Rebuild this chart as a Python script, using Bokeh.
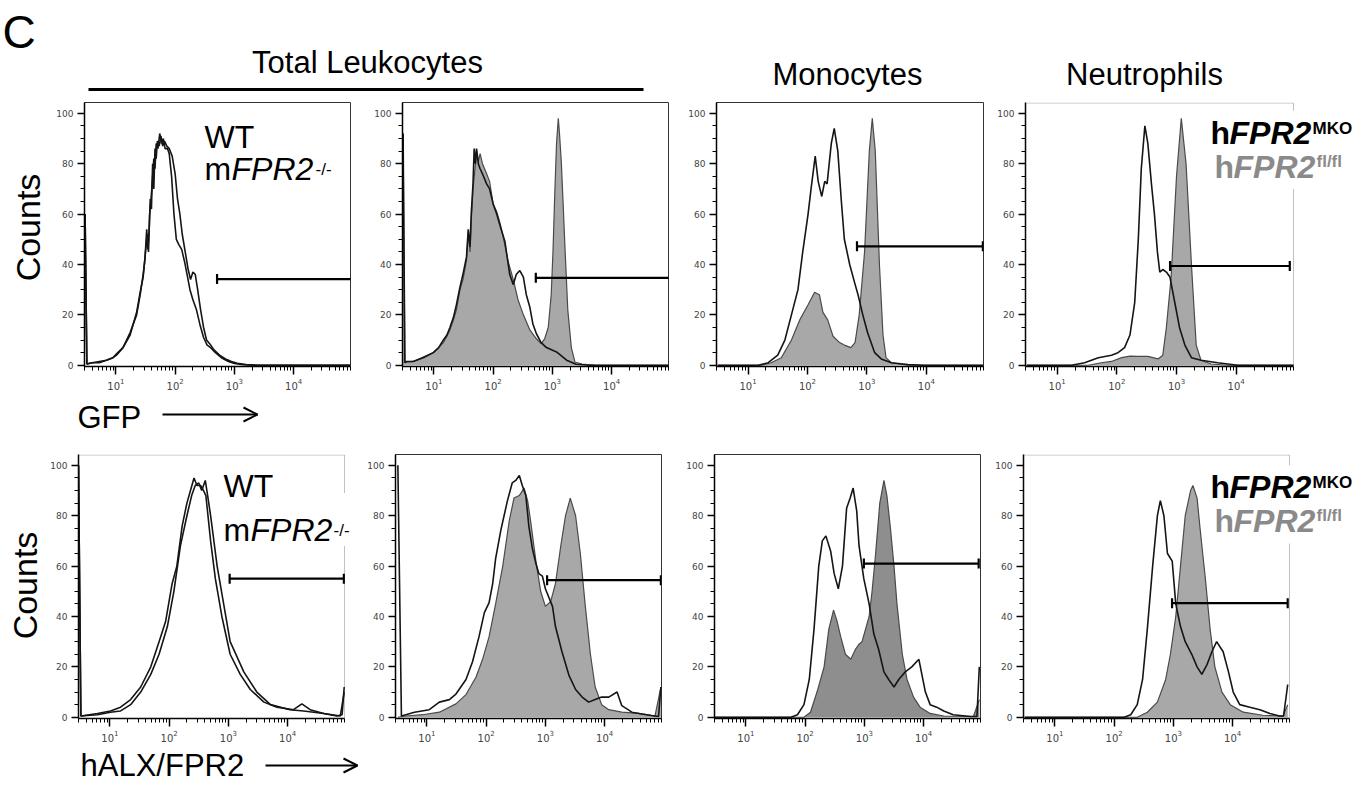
import math
from bokeh.plotting import figure
from bokeh.layouts import column, row
from bokeh.models import Range1d, FixedTicker, Label, Arrow, OpenHead, BoxAnnotation
from bokeh.embed import file_html
from bokeh.resources import INLINE

# ---------------- data (x = log10 fluorescence, y = counts) ----------------
# Row 1: GFP
gfp_leuk_wt = [(0.48, 60), (0.51, 0.5), (0.6, 1), (0.72, 1), (0.84, 2), (0.95, 3), (1.01, 4.5), (1.12, 7), (1.24, 13), (1.35, 20), (1.41, 28), (1.46, 36), (1.49, 42), (1.52, 54), (1.54, 46), (1.56, 53), (1.58, 66), (1.6, 62), (1.62, 80), (1.64, 70), (1.66, 86), (1.68, 82), (1.7, 89), (1.73, 87), (1.76, 91), (1.79, 87), (1.82, 89), (1.86, 87), (1.9, 86), (1.95, 83), (2.0, 76), (2.04, 66), (2.08, 60), (2.12, 52), (2.17, 45), (2.22, 38), (2.26, 34), (2.3, 37), (2.34, 36), (2.38, 30), (2.43, 22), (2.48, 15), (2.53, 10), (2.6, 8), (2.66, 6), (2.75, 4), (2.85, 2.5), (2.95, 1.5), (3.05, 0.8), (3.2, 0.3), (3.4, 0), (4.96, 0)]
gfp_leuk_ko = [(0.48, 60), (0.51, 0.5), (0.6, 1), (0.72, 1.5), (0.84, 2), (0.95, 3), (1.01, 4), (1.12, 7), (1.24, 12), (1.35, 21), (1.41, 29), (1.46, 35), (1.5, 45), (1.53, 52), (1.55, 45), (1.57, 60), (1.6, 68), (1.62, 75), (1.64, 82), (1.66, 78), (1.68, 88), (1.71, 86), (1.74, 92), (1.77, 88), (1.8, 90), (1.83, 86), (1.87, 86), (1.9, 84), (1.94, 75), (1.98, 60), (2.02, 50), (2.06, 48), (2.11, 46), (2.16, 41), (2.21, 35), (2.25, 30), (2.3, 26), (2.36, 22), (2.42, 16), (2.48, 11), (2.54, 8), (2.6, 7), (2.68, 5), (2.78, 3), (2.9, 1.5), (3.0, 0.7), (3.15, 0.2), (3.3, 0), (4.96, 0)]
gfp_leuk_fl = [(0.48, 92), (0.51, 1), (0.54, 1.3), (0.65, 1.5), (0.82, 3.3), (0.99, 5), (1.08, 7), (1.16, 9), (1.22, 11.5), (1.27, 14), (1.33, 18), (1.38, 22), (1.44, 30), (1.49, 34), (1.55, 41.5), (1.58, 53), (1.61, 45), (1.63, 57), (1.66, 70), (1.69, 77), (1.72, 85), (1.75, 81), (1.78, 84), (1.82, 80), (1.89, 76), (1.94, 73), (2.0, 64), (2.06, 61), (2.11, 57), (2.17, 51), (2.25, 41.5), (2.34, 34), (2.42, 26), (2.51, 20), (2.62, 14), (2.73, 10.5), (2.81, 8.6), (2.87, 10.5), (2.93, 15), (2.98, 28), (3.01, 45), (3.04, 68), (3.07, 88), (3.1, 98), (3.12, 92), (3.15, 81), (3.18, 65), (3.21, 48), (3.26, 22), (3.32, 7), (3.38, 1.3), (3.5, 0.5), (3.74, 0), (4.96, 0)]
gfp_leuk_mko = [(0.48, 92), (0.51, 1), (0.54, 1.5), (0.65, 1.5), (0.82, 3), (0.99, 5), (1.08, 7), (1.16, 10), (1.22, 12), (1.27, 15), (1.33, 19), (1.38, 24), (1.44, 31), (1.49, 36), (1.55, 43), (1.58, 54), (1.61, 47), (1.63, 60), (1.66, 72), (1.68, 86), (1.7, 80), (1.72, 86), (1.75, 80), (1.78, 78), (1.82, 76), (1.89, 72), (1.94, 70), (2.0, 64), (2.06, 60), (2.11, 56), (2.2, 49), (2.28, 36), (2.34, 32), (2.39, 36), (2.45, 37.6), (2.51, 35), (2.56, 28), (2.62, 23), (2.67, 16.5), (2.73, 12.5), (2.81, 9), (2.9, 7), (3.07, 5.3), (3.24, 2), (3.4, 0.4), (3.63, 0), (4.96, 0)]
gfp_mono_mko = [(0.49, 0), (1.17, 0), (1.34, 1), (1.5, 4), (1.62, 10), (1.73, 20), (1.84, 30), (1.92, 45), (2.01, 60), (2.06, 70), (2.13, 83), (2.18, 73), (2.24, 67), (2.29, 73), (2.33, 72), (2.4, 88), (2.45, 94), (2.51, 85), (2.57, 65), (2.62, 50), (2.71, 40), (2.79, 33), (2.85, 28), (2.93, 20), (3.01, 13), (3.13, 5), (3.24, 2.5), (3.41, 1), (3.69, 0.3), (3.97, 0), (4.96, 0)]
gfp_mono_fl = [(0.49, 0), (1.22, 0), (1.39, 1), (1.56, 3), (1.73, 10), (1.87, 18), (2.01, 24), (2.12, 29), (2.2, 28), (2.26, 21), (2.34, 18), (2.43, 11.5), (2.54, 9), (2.62, 8), (2.73, 7), (2.8, 9), (2.87, 20), (2.96, 45), (3.04, 85), (3.09, 98), (3.14, 85), (3.21, 40), (3.27, 12), (3.32, 3), (3.41, 1), (3.69, 0), (4.96, 0)]
gfp_neut_mko = [(0.49, 0), (1.24, 0), (1.46, 1), (1.69, 3), (1.91, 4), (2.02, 5), (2.13, 7), (2.22, 12), (2.3, 25), (2.36, 50), (2.41, 78), (2.47, 95), (2.52, 88), (2.58, 72), (2.63, 60), (2.68, 45), (2.72, 37), (2.77, 38), (2.83, 37), (2.89, 35), (2.97, 25), (3.05, 15), (3.14, 8), (3.25, 3), (3.41, 2), (3.69, 1), (4.03, 0), (4.96, 0)]
gfp_neut_fl = [(0.49, 0), (1.52, 0), (1.74, 1), (1.91, 1.5), (2.08, 3), (2.22, 3.6), (2.36, 3.5), (2.52, 3.5), (2.69, 2.5), (2.77, 4), (2.83, 15), (2.91, 35), (3.0, 75), (3.08, 98), (3.16, 80), (3.25, 40), (3.33, 8), (3.41, 2), (3.58, 0.5), (3.86, 0), (4.96, 0)]

# Row 2: hALX/FPR2
alx_leuk_wt = [(0.47, 100), (0.51, 0.5), (0.79, 1.5), (1.01, 2.5), (1.18, 4), (1.35, 7), (1.52, 12), (1.69, 20), (1.83, 30), (1.94, 38), (2.05, 53), (2.13, 60), (2.22, 76), (2.3, 85), (2.36, 90), (2.42, 95), (2.47, 92), (2.53, 92), (2.58, 90), (2.62, 88), (2.7, 70), (2.78, 55), (2.89, 40), (3.03, 25), (3.2, 17), (3.37, 11), (3.6, 6), (3.82, 4), (4.1, 3), (4.24, 5.3), (4.38, 3), (4.61, 1.5), (4.83, 0.5), (4.92, 1), (4.955, 12)]
alx_leuk_ko = [(0.47, 100), (0.51, 0.5), (0.79, 1), (1.01, 2), (1.18, 2.5), (1.35, 5), (1.52, 10), (1.69, 17), (1.83, 25), (1.97, 36), (2.08, 50), (2.19, 68), (2.3, 80), (2.38, 88), (2.44, 92), (2.5, 93), (2.55, 90), (2.61, 94), (2.65, 88), (2.7, 80), (2.81, 60), (2.92, 45), (3.03, 30), (3.26, 18), (3.48, 10), (3.71, 5), (4.04, 3), (4.27, 2.5), (4.61, 1.5), (4.89, 0.5), (4.955, 10)]
alx_leuk_mko = [(0.51, 100), (0.57, 0.5), (0.79, 2), (1.04, 3), (1.21, 6), (1.38, 7), (1.49, 9.2), (1.66, 15), (1.77, 22), (1.88, 32), (1.97, 41.5), (2.05, 45.5), (2.11, 53), (2.16, 63), (2.25, 74.5), (2.36, 86), (2.44, 93), (2.5, 94), (2.56, 96), (2.61, 92), (2.67, 88), (2.72, 76), (2.78, 67), (2.84, 61), (2.89, 57), (2.95, 56), (3.0, 51), (3.12, 44), (3.17, 36), (3.28, 26), (3.4, 16.5), (3.51, 11), (3.62, 8), (3.73, 6), (3.84, 7), (3.95, 8), (4.07, 8), (4.21, 10), (4.29, 4.6), (4.46, 2), (4.63, 1.3), (4.79, 0.7), (4.91, 0.3), (4.95, 12)]
alx_leuk_fl = [(0.51, 0), (0.65, 0.5), (0.93, 1), (1.21, 2), (1.49, 5.3), (1.66, 9), (1.83, 16), (1.94, 23), (2.05, 32), (2.16, 45), (2.28, 60), (2.39, 78), (2.47, 87), (2.56, 88), (2.64, 91), (2.7, 86), (2.75, 78), (2.84, 62), (2.92, 50), (3.0, 44), (3.09, 46), (3.17, 53), (3.26, 68), (3.34, 80), (3.42, 87), (3.51, 80), (3.59, 65), (3.67, 45), (3.76, 25), (3.84, 12), (3.95, 5), (4.07, 3), (4.29, 2), (4.57, 1.5), (4.85, 0.5), (4.95, 12)]
alx_mono_mko = [(0.48, 0), (1.76, 0), (1.87, 1), (1.98, 5), (2.07, 15), (2.15, 35), (2.23, 60), (2.29, 70), (2.35, 72), (2.43, 66), (2.49, 57), (2.56, 51), (2.63, 60), (2.7, 83), (2.76, 87), (2.81, 91), (2.87, 82), (2.91, 68), (2.99, 55), (3.08, 45), (3.16, 33), (3.24, 27), (3.33, 18), (3.41, 15), (3.5, 12), (3.58, 15), (3.69, 18), (3.8, 20), (3.92, 23), (3.97, 17), (4.03, 10), (4.11, 5), (4.22, 4), (4.34, 2.5), (4.5, 1), (4.79, 0.3), (4.9, 0.3), (4.94, 20)]
alx_mono_fl = [(0.48, 0), (1.98, 0), (2.09, 2), (2.2, 10), (2.32, 20), (2.4, 35), (2.48, 42.5), (2.54, 38), (2.6, 32), (2.68, 25), (2.77, 23), (2.85, 27), (2.91, 29), (2.96, 30), (3.02, 35), (3.08, 40), (3.13, 50), (3.19, 65), (3.26, 85), (3.33, 94), (3.38, 88), (3.44, 75), (3.5, 60), (3.55, 45), (3.64, 25), (3.72, 15), (3.83, 8), (3.94, 4), (4.11, 1.5), (4.34, 0.5), (4.84, 0.3), (4.94, 7)]
alx_neut_mko = [(0.49, 0), (2.17, 0), (2.28, 1), (2.39, 5), (2.48, 15), (2.56, 35), (2.65, 60), (2.73, 80), (2.78, 86), (2.84, 80), (2.9, 65), (2.98, 62), (3.04, 45), (3.12, 36), (3.2, 30), (3.31, 25), (3.4, 20), (3.48, 17), (3.57, 21), (3.65, 26), (3.73, 30), (3.84, 26), (3.93, 18), (4.01, 10), (4.12, 5), (4.29, 4), (4.46, 3), (4.63, 1.5), (4.79, 0.5), (4.86, 0.5), (4.93, 13)]
alx_neut_fl = [(0.49, 0), (2.39, 0), (2.56, 2), (2.73, 6), (2.87, 15), (2.95, 25), (3.04, 40), (3.12, 60), (3.2, 80), (3.29, 90), (3.33, 92), (3.4, 87), (3.45, 75), (3.54, 55), (3.62, 35), (3.7, 20), (3.82, 10), (3.96, 5), (4.18, 2), (4.51, 0.8), (4.85, 0.5), (4.93, 5)]

# gates: start, end (fluorescence), level (counts)
gate_start = [510, 525, 680, 780, 1050, 1070, 980, 950]
gate_end = [200000, 200000, 89000, 79000, 89000, 89000, 85000, 85000]
gate_level = [34.2, 34.7, 47.2, 39.4, 55.0, 54.4, 61.0, 45.3]

y_ticks = [0, 20, 40, 60, 80, 100]
x_ticks = [10, 100, 1000, 10000]
col_titles = ["Total Leukocytes", "Monocytes", "Neutrophils"]

# ---------------- styling ----------------
FONT = "Liberation Sans"
LO_EXP, HI_EXP = 0.47, 4.96
XLO, XHI = 10 ** LO_EXP, 10 ** HI_EXP
YLO, YHI = -0.5, 104.3
FILL = "#a8a8a8"
FILL_DARK = "#8e8e8e"
GRAY_TXT = "#8a8a8a"
K = 0.31  # baseline correction for text rendering (fraction of font size)
CW1, CW2 = 49, 46   # widths of the "Counts" strips (row 1, row 2)
minor_x = [m * 10 ** d for d in range(0, 5) for m in range(2, 10) if XLO < m * 10 ** d < XHI]
minor_y = [v for v in range(5, 100, 5) if v % 20]


def panel(fw, ext, bl, br, bt, bb):
    hi = 10 ** (LO_EXP + (fw + ext) / fw * (HI_EXP - LO_EXP))
    p = figure(frame_width=fw + ext, frame_height=264, x_axis_type="log",
               x_range=Range1d(XLO, hi), y_range=Range1d(YLO, YHI), title=None,
               toolbar_location=None, output_backend="svg",
               min_border_left=bl, min_border_right=br, min_border_top=bt, min_border_bottom=bb,
               background_fill_color="white", border_fill_color="white")
    p.grid.visible = False
    if ext == 0:
        p.outline_line_color = "#333333"
        p.outline_line_width = 1
    else:
        p.outline_line_color = None
        p.add_layout(BoxAnnotation(left=XLO, right=XHI, bottom=YLO, top=YHI - 0.2,
                                   fill_color=None, line_color="#333333", line_width=1))
        p.xaxis.bounds = (XLO, XHI)
    p.yaxis.ticker = FixedTicker(ticks=y_ticks, minor_ticks=minor_y)
    p.xaxis.ticker = FixedTicker(ticks=x_ticks, minor_ticks=minor_x)
    for ax in (p.xaxis[0], p.yaxis[0]):
        ax.axis_line_color = "black"
        ax.axis_line_width = 1.5
        ax.major_tick_line_color = "black"
        ax.major_tick_line_width = 1.5
        ax.minor_tick_line_color = "black"
        ax.minor_tick_line_width = 1
        ax.major_tick_in = 0
        ax.minor_tick_in = 0
        ax.major_label_text_font = "DejaVu Sans"
        ax.major_label_text_color = "#444444"
    p.yaxis.major_tick_out = 7
    p.yaxis.minor_tick_out = 4
    p.yaxis.major_label_text_font_size = "9px"
    p.yaxis.major_label_standoff = 4
    p.xaxis.major_tick_out = 8
    p.xaxis.minor_tick_out = 4
    p.xaxis.major_label_text_font_size = "10px"
    p.xaxis.major_label_standoff = 3
    return p


def fill(p, pts, color=FILL):
    xs = [10 ** a for a, b in pts]
    ys = [b for a, b in pts]
    p.varea(x=xs, y1=[0] * len(xs), y2=ys, fill_color=color)
    p.line(xs, ys, line_color="#4a4a4a", line_width=1.2)


def outline(p, pts):
    xs = [10 ** a for a, b in pts]
    ys = [b for a, b in pts]
    p.line(xs, ys, line_color="#151515", line_width=1.6)


def gate(p, i):
    p.segment(x0=[gate_start[i]], y0=[gate_level[i]], x1=[gate_end[i]], y1=[gate_level[i]],
              line_color="black", line_width=2.2)
    p.scatter([gate_start[i], gate_end[i]], [gate_level[i], gate_level[i]], marker="dash",
              angle=math.pi / 2, size=10, line_color="black", line_width=2.2)


def hide_border(p, y_top, y_bottom, half_dec):
    p.add_layout(BoxAnnotation(left=10 ** (HI_EXP - half_dec), right=10 ** (HI_EXP + half_dec),
                               bottom=y_bottom, top=y_top, fill_color="white", fill_alpha=1,
                               line_color=None))


def lab(p, fl, fb, x, y, text, size, color="black", style="normal"):
    p.add_layout(Label(x=x - fl, y=fb - y + K * size, x_units="screen", y_units="screen",
                       text=text, text_font=FONT, text_font_size=f"{size}px", text_color=color,
                       text_font_style=style, text_align="left", text_baseline="alphabetic"))


def strip(w, h):
    s = figure(width=w, height=h, x_range=Range1d(0, w), y_range=Range1d(0, h), title=None,
               x_axis_location=None, y_axis_location=None, toolbar_location=None,
               output_backend="svg", min_border=0, outline_line_color=None,
               background_fill_color="white", border_fill_color="white")
    s.grid.visible = False
    return s


def strip_text(s, top, h, x, y, text, size, align="left"):
    s.add_layout(Label(x=x, y=top + h - y + K * size, x_units="screen", y_units="screen",
                       text=text, text_font=FONT, text_font_size=f"{size}px",
                       text_align=align, text_baseline="alphabetic", text_color="black"))


def strip_arrow(s, top, h, x0, x1, y, head=True, width=2.0):
    yy = top + h - y
    s.add_layout(Arrow(x_start=x0, y_start=yy, x_end=x1, y_end=yy,
                       start_units="screen", end_units="screen",
                       end=OpenHead(size=14, line_width=2, line_color="black") if head else None,
                       line_color="black", line_width=width))


def counts_strip(w, top, h, cy):
    # rotated label; offsets compensate the renderer's anchor shift for rotated text
    s = strip(w, h)
    s.add_layout(Label(x=w - 22, y=top + h - (cy + 30), x_units="screen", y_units="screen",
                       text="Counts", text_font=FONT, text_font_size="34px", text_color="black",
                       text_align="center", text_baseline="alphabetic", angle=math.pi / 2))
    return s


# ---------------- header ----------------
HW = 1365
header = strip(HW, 98)
strip_text(header, 0, 98, 2, 46, "C", 46)
strip_text(header, 0, 98, 367, 72, col_titles[0], 31, align="center")
strip_text(header, 0, 98, 847, 84, col_titles[1], 31, align="center")
strip_text(header, 0, 98, 1144, 84, col_titles[2], 31, align="center")
strip_arrow(header, 0, 98, 88, 643, 89, head=False, width=3)

# ---------------- row 1 ----------------
R1B = 366
r1 = [panel(266, 0, 84 - CW1, 10, 4, 30), panel(266, 0, 42, 8, 4, 30),
      panel(267, 0, 40, 6, 4, 30), panel(268, 68, 36, 2, 4, 30)]

outline(r1[0], gfp_leuk_ko)
outline(r1[0], gfp_leuk_wt)
fill(r1[1], gfp_leuk_fl)
outline(r1[1], gfp_leuk_mko)
fill(r1[2], gfp_mono_fl)
outline(r1[2], gfp_mono_mko)
fill(r1[3], gfp_neut_fl)
outline(r1[3], gfp_neut_mko)
for i in range(4):
    gate(r1[i], i)

# ---------------- row 2 ----------------
R2B = 718
r2 = [panel(266, 10, 78 - CW2, 2, 14, 30), panel(266, 0, 39, 12, 14, 30),
      panel(266, 0, 41, 7, 14, 30), panel(266, 72, 36, 2, 14, 30)]

outline(r2[0], alx_leuk_ko)
outline(r2[0], alx_leuk_wt)
fill(r2[1], alx_leuk_fl)
outline(r2[1], alx_leuk_mko)
fill(r2[2], alx_mono_fl, FILL_DARK)
outline(r2[2], alx_mono_mko)
fill(r2[3], alx_neut_fl)
outline(r2[3], alx_neut_mko)
for i in range(4):
    gate(r2[i], 4 + i)

# ---------------- in-panel texts ----------------
lab(r1[0], 84, R1B, 204, 146, "WT", 32)
lab(r1[0], 84, R1B, 204, 178, "m", 32)
lab(r1[0], 84, R1B, 231, 178, "FPR2", 32, style="italic")
lab(r1[0], 84, R1B, 315, 174, "-/-", 17)

hide_border(r2[0], 89, 68, 0.1)
lab(r2[0], 78, R2B, 223, 495, "WT", 32)
lab(r2[0], 78, R2B, 223, 539, "m", 32)
lab(r2[0], 78, R2B, 250, 539, "FPR2", 32, style="italic")
lab(r2[0], 78, R2B, 333, 535, "-/-", 17)

hide_border(r1[3], 101, 70, 0.12)
hide_border(r2[3], 100, 69, 0.12)
for p, fl, fb, b1, b2 in ((r1[3], 1025, R1B, 142, 176), (r2[3], 1023, R2B, 496, 530)):
    lab(p, fl, fb, 1210, b1, "h", 32, style="bold")
    lab(p, fl, fb, 1229, b1, "FPR2", 32, style="bold italic")
    lab(p, fl, fb, 1312, b1 - 9, "MKO", 17, style="bold")
    lab(p, fl, fb, 1214, b2, "h", 32, color=GRAY_TXT, style="bold")
    lab(p, fl, fb, 1233, b2, "FPR2", 32, color=GRAY_TXT, style="bold italic")
    lab(p, fl, fb, 1316, b2 - 10, "fl/fl", 17, color=GRAY_TXT, style="bold")

# ---------------- axis-name strips ----------------
gfp_strip = strip(HW, 44)
strip_text(gfp_strip, 396, 44, 77, 427, "GFP", 31)
strip_arrow(gfp_strip, 396, 44, 162, 257, 414)

alx_strip = strip(HW, 38)
strip_text(alx_strip, 748, 38, 80, 775, "hALX/FPR2", 31)
strip_arrow(alx_strip, 748, 38, 265, 357, 765)

c1 = counts_strip(CW1, 98, 298, 227)
c2 = counts_strip(CW2, 440, 308, 585)

layout = column(header, row(c1, *r1, spacing=0), gfp_strip, row(c2, *r2, spacing=0), alx_strip,
                spacing=0)
open("out.html", "w").write(file_html(layout, INLINE))
